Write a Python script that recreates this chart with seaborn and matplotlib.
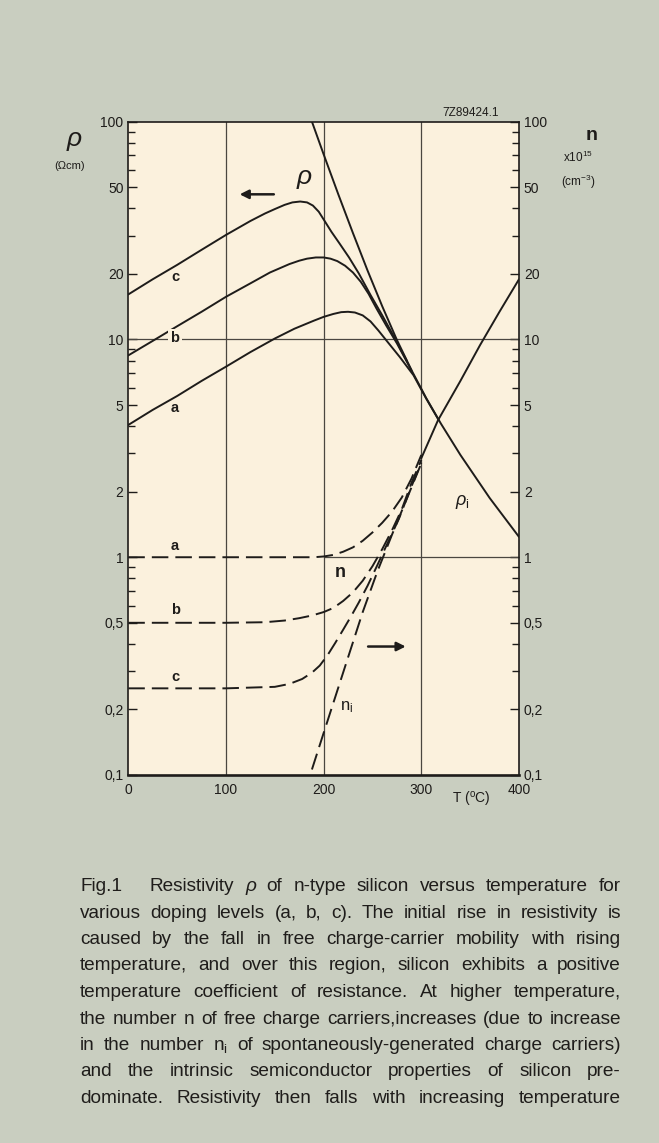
import matplotlib
matplotlib.use("Agg")
import matplotlib.pyplot as plt
import seaborn as sns
import numpy as np
import pandas as pd
from matplotlib.ticker import FixedLocator, FixedFormatter, NullFormatter

# ---------------- data ----------------
# resistivity curves rho (Ohm cm) vs T (deg C)
T_rho_a = [0, 25, 50, 75, 100, 125, 150, 170, 190, 200, 210, 218, 225, 232, 240, 248, 256, 265, 278, 292, 305, 318]
rho_a   = [4.05, 4.75, 5.5, 6.45, 7.5, 8.75, 10.1, 11.2, 12.2, 12.7, 13.1, 13.35, 13.4, 13.3, 12.9, 12.1, 11.0, 9.8, 8.3, 6.85, 5.35, 4.25]

T_rho_b = [0, 25, 50, 75, 100, 125, 145, 165, 175, 183, 192, 200, 207, 214, 222, 230, 238, 246, 254, 264, 275, 290]
rho_b   = [8.45, 9.85, 11.5, 13.4, 15.7, 18.1, 20.3, 22.2, 23.0, 23.5, 23.8, 23.8, 23.5, 22.9, 21.8, 20.3, 18.4, 16.2, 13.9, 11.6, 9.6, 7.2]

T_rho_c = [0, 25, 50, 75, 100, 125, 140, 150, 160, 168, 176, 183, 189, 195, 201, 208, 216, 226, 236, 248, 260, 272, 285]
rho_c   = [16.1, 18.9, 22.0, 25.8, 30.2, 35.0, 37.9, 39.7, 41.5, 42.6, 43.0, 42.6, 41.2, 38.6, 35.0, 31.2, 27.7, 23.8, 20.1, 16.0, 12.9, 10.3, 8.0]

# intrinsic resistivity rho_i
T_rho_i = [186, 200, 215, 230, 245, 260, 275, 290, 305, 320, 340, 370, 400]
rho_i   = [106, 70.8, 46.4, 30.8, 20.7, 14.2, 9.95, 7.22, 5.38, 4.11, 2.95, 1.87, 1.24]

# carrier concentration n (x1e15 cm^-3), dashed curves
T_n_a = [0, 100, 190, 200, 210, 220, 230, 240, 250, 260, 270, 280, 290, 300]
n_a   = [1.0, 1.0, 1.0, 1.008, 1.025, 1.06, 1.11, 1.19, 1.3, 1.44, 1.62, 1.88, 2.3, 2.95]

T_n_b = [0, 100, 140, 160, 175, 188, 200, 210, 220, 230, 240, 250, 260, 270, 280, 290, 300]
n_b   = [0.5, 0.5, 0.503, 0.512, 0.525, 0.54, 0.56, 0.585, 0.63, 0.69, 0.78, 0.91, 1.09, 1.33, 1.66, 2.2, 2.8]

T_n_c = [0, 100, 150, 165, 178, 188, 196, 204, 212, 220, 228, 236, 245, 255, 265, 277, 290, 300]
n_c   = [0.25, 0.25, 0.254, 0.262, 0.276, 0.295, 0.318, 0.355, 0.405, 0.465, 0.535, 0.62, 0.74, 0.92, 1.15, 1.5, 2.12, 2.72]

# intrinsic carrier concentration n_i (dashed)
T_n_i = [188, 200, 212, 225, 240, 255, 270, 285, 300]
n_i   = [0.106, 0.156, 0.229, 0.347, 0.56, 0.86, 1.27, 1.85, 2.7]

# merged n at high temperature (solid)
T_n_hi = [300, 317, 340, 360, 380, 400]
n_hi   = [2.85, 4.25, 6.45, 9.4, 13.4, 18.9]

x_ticks = [0, 100, 200, 300, 400]
y_major = [0.1, 0.2, 0.5, 1, 2, 5, 10, 20, 50, 100]
y_major_labels = ["0,1", "0,2", "0,5", "1", "2", "5", "10", "20", "50", "100"]
y_minor = [0.3, 0.4, 0.6, 0.7, 0.8, 0.9, 3, 4, 6, 7, 8, 9, 30, 40, 60, 70, 80, 90]

caption = [
    "Fig.1 Resistivity ρ of n-type silicon versus temperature for",
    "various doping levels (a, b, c). The initial rise in resistivity is",
    "caused by the fall in free charge-carrier mobility with rising",
    "temperature, and over this region, silicon exhibits a positive",
    "temperature coefficient of resistance. At higher temperature,",
    "the number n of free charge carriers,increases (due to increase",
    "in the number n_i of spontaneously-generated charge carriers)",
    "and the intrinsic semiconductor properties of silicon pre-",
    "dominate. Resistivity then falls with increasing temperature",
]

# ---------------- style ----------------
sns.set_theme(style="ticks")
plt.rcParams['font.family'] = ['Liberation Sans', 'DejaVu Sans']
plt.rcParams['mathtext.fontset'] = 'custom'
plt.rcParams['mathtext.rm'] = 'Liberation Sans'
plt.rcParams['mathtext.it'] = 'Liberation Sans:italic'
plt.rcParams['mathtext.bf'] = 'Liberation Sans:bold'

BG = "#c9cec0"
CREAM = "#fbf1dd"
INK = "#1e1c1a"
GRID = "#4a4640"

W, H = 659, 1143
fig = plt.figure(figsize=(W / 100, H / 100), dpi=100)
fig.patch.set_facecolor(BG)
L, R, TOP, BOT = 128.3, 519.0, 121.7, 775.0
ax = fig.add_axes([L / W, 1 - BOT / H, (R - L) / W, (BOT - TOP) / H])
ax.set_facecolor(CREAM)
ax.set_yscale('log')
ax.set_xlim(0, 400)
ax.set_ylim(0.1, 100)

# grid lines
for xv in [100, 200, 300]:
    ax.axvline(xv, color=GRID, lw=0.9, zorder=1)
ax.axhline(10, color=GRID, lw=0.9, zorder=1)
ax.axhline(1, xmin=0.5, xmax=1, color=GRID, lw=0.9, zorder=1)

LW = 1.4
dash = (0, (8.5, 3.6))


def draw(T, v, ls='-'):
    sns.lineplot(x=T, y=v, ax=ax, color=INK, lw=LW, linestyle=ls,
                 estimator=None, sort=False, zorder=3)


draw(T_rho_a, rho_a)
draw(T_rho_b, rho_b)
draw(T_rho_c, rho_c)
draw(T_rho_i, rho_i)
draw(T_n_a, n_a, dash)
draw(T_n_b, n_b, dash)
draw(T_n_c, n_c, dash)
draw(T_n_i, n_i, dash)
draw(T_n_hi, n_hi)
for ln in ax.lines:
    ln.set_solid_joinstyle('round')
    ln.set_dash_joinstyle('round')

# ticks
ax.yaxis.set_major_locator(FixedLocator(y_major))
ax.yaxis.set_major_formatter(FixedFormatter(y_major_labels))
ax.yaxis.set_minor_locator(FixedLocator(y_minor))
ax.yaxis.set_minor_formatter(NullFormatter())
ax.set_xticks(x_ticks)
ax.set_xticklabels([str(t) for t in x_ticks])
ax.tick_params(axis='y', which='major', direction='in', length=6.5, width=1.0,
               left=True, right=True, labelleft=True, labelright=True,
               labelsize=10, pad=3.5, colors=INK)
ax.tick_params(axis='y', which='minor', direction='in', length=5, width=1.0,
               left=True, right=True, colors=INK)
ax.tick_params(axis='x', length=0, labelsize=10, pad=6, colors=INK)
ax.set_xlabel("")
ax.set_ylabel("")
for s in ['left', 'right', 'top']:
    ax.spines[s].set_linewidth(1.2)
    ax.spines[s].set_color(INK)
ax.spines['bottom'].set_linewidth(1.9)
ax.spines['bottom'].set_color(INK)
for s in ax.spines.values():
    s.set_visible(True)

# in-plot labels
lab = dict(color=INK, ha='center', va='center', zorder=5)
ax.text(47.8, 19.4, "c", fontsize=10.5, fontweight='bold', **lab)
ax.text(47.8, 10.2, "b", fontsize=10.5, fontweight='bold',
        bbox=dict(facecolor=CREAM, edgecolor='none', pad=1.5), **lab)
ax.text(47.8, 4.84, "a", fontsize=10.5, fontweight='bold', **lab)
ax.text(47.8, 1.13, "a", fontsize=10.5, fontweight='bold', **lab)
ax.text(48.5, 0.573, "b", fontsize=10.5, fontweight='bold', **lab)
ax.text(48.5, 0.282, "c", fontsize=10.5, fontweight='bold', **lab)
ax.text(180, 56, "ρ", fontsize=19, style='italic', **lab)
ax.text(216.6, 0.85, "n", fontsize=13, fontweight='bold', **lab)
ax.text(224, 0.205, r"n$_{\mathrm{i}}$", fontsize=12, **lab)
ax.text(342, 1.8, r"$\it{\rho}$$_{\mathrm{i}}$", fontsize=13, **lab)

ax.annotate("", xy=(114, 46.4), xytext=(149, 46.4),
            arrowprops=dict(arrowstyle='-|>', color=INK, lw=1.8, mutation_scale=13,
                            shrinkA=0, shrinkB=0))
ax.annotate("", xy=(284, 0.389), xytext=(245.5, 0.389),
            arrowprops=dict(arrowstyle='-|>', color=INK, lw=1.8, mutation_scale=13,
                            shrinkA=0, shrinkB=0))


def ftext(x, y, s, **kw):
    kw.setdefault('color', INK)
    kw.setdefault('ha', 'center')
    kw.setdefault('va', 'center')
    return fig.text(x / W, 1 - y / H, s, **kw)


# outside labels
ftext(74, 139, "ρ", fontsize=19, style='italic')
ftext(70, 166, "(Ωcm)", fontsize=8)
ftext(592, 135, "n", fontsize=14, fontweight='bold')
ftext(578, 157, r"x10$^{15}$", fontsize=8.5)
ftext(578, 182, r"(cm$^{-3}$)", fontsize=8.5)
ftext(471, 112.5, "7Z89424.1", fontsize=8.5)
ftext(471, 800, r"T ($^{\mathrm{o}}$C)", fontsize=10)

# caption, justified
fig.canvas.draw()
renderer = fig.canvas.get_renderer()
X0, X1 = 80.0, 621.0


def word_str(w):
    return r"n$_{\mathrm{i}}$" if w == "n_i" else w


# choose the font size so that the widest line fits with normal spacing
base = 11.0
ratios = []
for i, line in enumerate(caption):
    s = " ".join(word_str(w) for w in line.split(" "))
    if i == 0:
        s = s.replace("Fig.1 ", "Fig.1    ", 1)
    t = fig.text(0, 0, s, fontsize=base)
    ratios.append((X1 - X0) / t.get_window_extent(renderer).width)
    t.remove()
CAP_FS = base * min(ratios) * 0.985

for i, line in enumerate(caption):
    words = line.split(" ")
    arts = []
    for w in words:
        kw = dict(fontsize=CAP_FS, color="#1f1d1b", ha='left', va='baseline')
        if w == "ρ":
            kw['style'] = 'italic'
        arts.append(fig.text(0, 0, word_str(w), **kw))
    widths = [a.get_window_extent(renderer).width for a in arts]
    weights = [1.0] * (len(arts) - 1)
    if i == 0:
        weights[0] = 2.6
    gap = (X1 - X0 - sum(widths)) / sum(weights)
    x = X0
    yb = 886 + 26.5 * i + 5
    for k, a in enumerate(arts):
        a.set_position((x / W, 1 - yb / H))
        x += widths[k]
        if k < len(weights):
            x += gap * weights[k]

fig.savefig("out.png", dpi=100, facecolor=BG)
